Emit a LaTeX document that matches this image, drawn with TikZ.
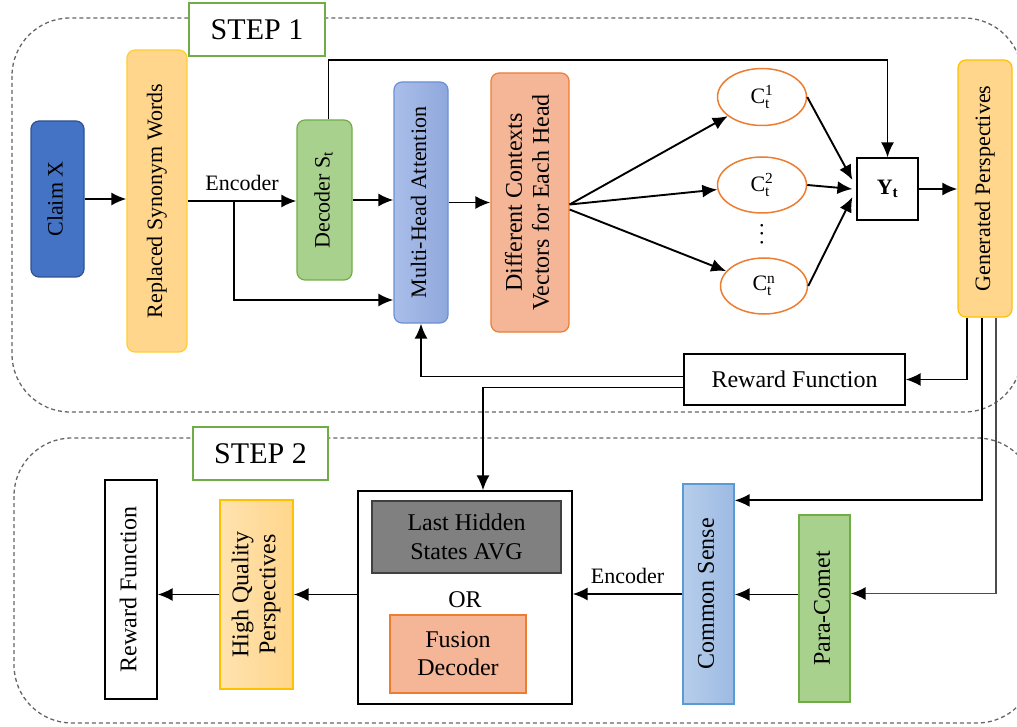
\documentclass[tikz,border=0pt]{standalone}
\usepackage{fontspec}
\setmainfont{Liberation Serif}
\usepackage{graphicx}
\usetikzlibrary{arrows.meta,shapes.geometric}

\definecolor{claimblue}{HTML}{4472C4}
\definecolor{claimedge}{HTML}{2F528F}
\definecolor{softgold}{HTML}{FFD68C}
\definecolor{goldedge}{HTML}{FFC000}
\definecolor{softgreen}{HTML}{A9D18E}
\definecolor{greenedge}{HTML}{70AD47}
\definecolor{mhaleft}{HTML}{AABEE9}
\definecolor{mharight}{HTML}{8FA8DC}
\definecolor{mhaedge}{HTML}{6B8FD6}
\definecolor{salmon}{HTML}{F5B597}
\definecolor{salmonedge}{HTML}{ED7D31}
\definecolor{skyleft}{HTML}{B6CEEB}
\definecolor{skyright}{HTML}{9DBAE3}
\definecolor{skyedge}{HTML}{5B9BD5}
\definecolor{hiddengray}{HTML}{808080}
\definecolor{regionedge}{HTML}{666666}

% vertical (bottom-to-top) label, one or more lines
\newcommand{\vlabel}[1]{\rotatebox{90}{\begin{tabular}{@{}c@{}}#1\end{tabular}}}

\begin{document}
\begin{tikzpicture}[x=1pt, y=-1pt,
	every node/.style={inner sep=0pt, align=center},
	box/.style={draw, line width=1.2pt, font=\fontsize{22}{25}\selectfont},
	rbox/.style={box, rounded corners=8pt},
	bigtxt/.style={font=\fontsize{24}{27}\selectfont},
	head/.style={draw=salmonedge, line width=1.5pt, ellipse, fill=white, font=\fontsize{22}{25}\selectfont},
	arrow/.style={-{Latex[length=15pt,width=13pt,color=black]}, line width=1.9pt},
	region/.style={draw=regionedge, dash pattern=on 4pt off 3pt, line width=1.3pt, rounded corners=58pt},
	steplabel/.style={draw=greenedge, line width=1.2pt, fill=white, font=\fontsize{30}{34}\selectfont}
	]
	\useasboundingbox (0,0) rectangle (1017,727);
	\clip (0,0) rectangle (1017,727);
	
	% Dashed stage frames
	\draw[region] (12,18) rectangle (1022,412);
	\draw[region] (14,438) rectangle (1035,723);
	\node[steplabel, minimum width=136pt, minimum height=53pt] (step1) at (257,29.5) {STEP 1};
	\node[steplabel, minimum width=135pt, minimum height=53pt] (step2) at (260.5,453.5) {STEP 2};
	
	% Step 1 nodes
	\node[rbox, fill=claimblue, draw=claimedge, minimum width=53pt, minimum height=156pt] (claim) at (57.5,199) {\vlabel{Claim X}};
	\node[rbox, fill=softgold, draw=goldedge!80, minimum width=60pt, minimum height=302pt] (repl) at (157,201) {\vlabel{Replaced Synonym Words}};
	\node[rbox, fill=softgreen, draw=greenedge, minimum width=55pt, minimum height=160pt] (dec) at (324.5,200) {\vlabel{Decoder S\textsubscript{t}}};
	\node[rbox, left color=mhaleft, right color=mharight, draw=mhaedge, minimum width=54pt, minimum height=241pt] (mha) at (421,202.5) {\vlabel{Multi-Head Attention}};
	\node[rbox, bigtxt, fill=salmon, draw=salmonedge, minimum width=78pt, minimum height=259pt] (diff) at (530,202.5) {\vlabel{Different Contexts\\Vectors for Each Head}};
	\node[head, minimum width=89pt, minimum height=57pt] (ct1) at (762,97) {$\mathrm{C}_{\mathrm{t}}^{\mathrm{1}}$};
	\node[head, minimum width=89pt, minimum height=56pt] (ct2) at (762,185) {$\mathrm{C}_{\mathrm{t}}^{\mathrm{2}}$};
	\node[head, minimum width=87pt, minimum height=56pt] (ctn) at (764,286) {$\mathrm{C}_{\mathrm{t}}^{\mathrm{n}}$};
	\node[font=\fontsize{22}{25}\selectfont] (dots) at (762,234) {\rotatebox{90}{.\hspace{3pt}.\hspace{3pt}.}};
	\node[box, minimum width=61pt, minimum height=62pt] (yt) at (887.5,189) {\textbf{Y\textsubscript{t}}};
	\node[rbox, fill=softgold, draw=goldedge, minimum width=54pt, minimum height=257pt] (gen) at (985,188.5) {\vlabel{Generated Perspectives}};
	\node[box, bigtxt, fill=white, minimum width=221pt, minimum height=51pt] (rwd1) at (794.5,379.5) {Reward Function};
	
	% Step 2 nodes
	\node[box, bigtxt, fill=white, minimum width=52pt, minimum height=219pt] (rwd2) at (131,589.5) {\vlabel{Reward Function}};
	\node[box, bigtxt, left color=softgold!70!white, right color=softgold, draw=goldedge, minimum width=73pt, minimum height=189pt] (hq) at (256.5,594.5) {\vlabel{High Quality\\Perspectives}};
	\node[box, fill=white, minimum width=214pt, minimum height=213pt] (outer) at (465,597.5) {};
	\node[box, font=\fontsize{24}{29}\selectfont, fill=hiddengray, draw=black!75, minimum width=189pt, minimum height=72pt] (hidden) at (466.5,537) {Last Hidden\\States AVG};
	\node[bigtxt] (orlbl) at (465,600) {OR};
	\node[box, font=\fontsize{24}{28}\selectfont, fill=salmon, draw=salmonedge, minimum width=136pt, minimum height=78pt] (fusion) at (458,654) {Fusion\\Decoder};
	\node[box, bigtxt, left color=skyleft, right color=skyright, draw=skyedge, minimum width=51pt, minimum height=220pt] (common) at (708.5,594) {\vlabel{Common Sense}};
	\node[box, bigtxt, fill=softgreen, draw=greenedge, minimum width=51pt, minimum height=187pt] (para) at (824.5,608.5) {\vlabel{Para-Comet}};
	
	% Arrows in step 1
	\coordinate (split) at (234,200);
	\draw[arrow] (claim.east) -- (claim.east -| repl.west);
	\draw[arrow] (repl.east) -- (repl.east -| dec.west) node[midway, above=9pt, font=\fontsize{22}{25}\selectfont] {Encoder};
	\draw[arrow] (split) |- (mha.west |- 0,300);
	\draw[arrow] (dec.east) -- (dec.east -| mha.west);
	\draw[arrow] ([xshift=4pt]dec.north) -- ++(0,-59) -| (yt.north);
	\draw[arrow] (mha.east) -- (mha.east -| diff.west);
	\draw[arrow] ([yshift=-2pt]diff.east) -- (ct1);
	\draw[arrow] ([yshift=-2pt]diff.east) -- (ct2);
	\draw[arrow] ([yshift=-7pt]diff.east) -- (ctn);
	\draw[arrow] (ct1.east) -- ([xshift=-4pt,yshift=9pt]yt.west);
	\draw[arrow] (ct2.east) -- ([xshift=-4pt]yt.west);
	\draw[arrow] (ctn.east) -- ([xshift=-4pt,yshift=-8pt]yt.west);
	\draw[arrow] (yt.east) -- (yt.east -| gen.west);
	
	% Feedback from the generated perspectives
	\draw[arrow] ([xshift=-18pt]gen.south) |- (rwd1.east);
	\draw[arrow] ([yshift=3pt]rwd1.west) -| (mha.south);
	\draw[arrow] ([yshift=-8pt]rwd1.west) -| ([xshift=18pt]outer.north);
	\draw[arrow] ([xshift=-3pt]gen.south) |- ([yshift=-17pt]common.north east);
	\draw[arrow, draw=black!70] ([xshift=11pt]gen.south) |- ([yshift=15pt]para.east);
	
	% Arrows in step 2
	\coordinate (pc) at ([yshift=14pt]para.west);
	\draw[arrow] (pc) -- (pc -| common.east);
	\draw[arrow] (common.west) -- (common.west -| outer.east) node[midway, above=9pt, font=\fontsize{22}{25}\selectfont] {Encoder};
	\draw[arrow] (outer.west |- hq.east) -- (hq.east);
	\draw[arrow] (hq.west) -- (hq.west -| rwd2.east);
	
\end{tikzpicture}
\end{document}
